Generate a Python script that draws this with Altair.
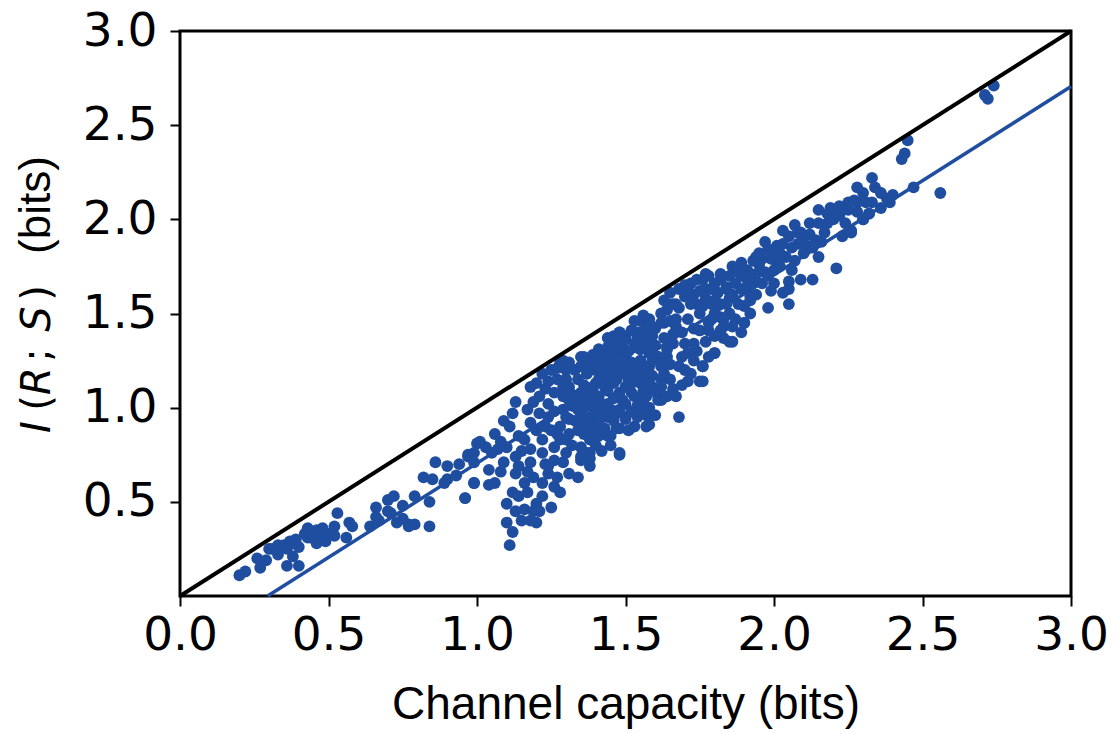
import altair as alt
import pandas as pd

# (channel capacity, mutual information) pairs in bits, one per neuron
low_band = [
    (0.20, 0.11), (0.22, 0.13), (0.27, 0.15), (0.26, 0.20), (0.30, 0.25), (0.29, 0.19),
    (0.33, 0.22), (0.35, 0.27), (0.37, 0.29), (0.39, 0.30), (0.36, 0.16), (0.40, 0.16),
    (0.38, 0.21), (0.43, 0.36), (0.46, 0.35), (0.40, 0.26), (0.43, 0.31), (0.46, 0.28),
    (0.49, 0.29), (0.52, 0.32), (0.53, 0.44), (0.52, 0.37), (0.56, 0.31), (0.57, 0.39),
    (0.58, 0.37), (0.64, 0.37), (0.66, 0.47), (0.67, 0.40), (0.70, 0.51), (0.72, 0.53),
    (0.71, 0.44), (0.73, 0.39), (0.75, 0.48), (0.77, 0.37), (0.79, 0.38), (0.79, 0.53),
    (0.82, 0.63), (0.84, 0.50), (0.84, 0.37), (0.86, 0.71), (0.89, 0.60), (0.90, 0.69),
    (0.93, 0.64), (0.96, 0.52), (0.97, 0.74), (0.99, 0.71), (0.99, 0.60), (1.00, 0.81),
    (0.31, 0.25), (0.33, 0.27), (0.36, 0.25), (0.38, 0.28), (0.42, 0.33), (0.44, 0.31),
    (0.47, 0.33), (0.50, 0.33), (0.48, 0.36), (0.66, 0.42), (0.70, 0.45), (0.75, 0.41),
    (0.77, 0.38), (0.85, 0.62), (0.90, 0.62), (0.94, 0.70),
]

lower_spread = [
    (0.97, 0.75), (0.99, 0.76), (0.96, 0.52), (0.99, 0.60), (1.04, 0.59), (1.06, 0.60),
    (1.04, 0.67), (1.01, 0.82), (1.03, 0.79), (1.07, 0.78), (1.08, 0.66), (1.09, 0.71),
    (1.09, 0.93), (1.11, 0.90), (1.13, 1.03), (1.12, 0.97), (1.14, 0.85), (1.15, 0.77),
    (1.13, 0.74), (1.13, 0.65), (1.12, 0.55), (1.10, 0.49), (1.10, 0.39), (1.12, 0.34),
    (1.11, 0.27), (1.13, 0.45), (1.16, 0.46), (1.18, 0.40), (1.20, 0.49), (1.21, 0.45),
    (1.25, 0.47), (1.20, 0.39), (1.18, 0.71), (1.19, 0.63), (1.22, 0.60), (1.24, 0.65),
    (1.28, 0.55), (1.27, 0.63), (1.29, 0.71),
    (1.14, 0.53), (1.16, 0.60), (1.17, 0.55), (1.15, 0.40), (1.19, 0.45), (1.22, 0.53),
    (1.23, 0.70), (1.26, 0.58), (1.14, 0.69), (1.17, 0.66), (1.05, 0.76), (1.08, 0.82),
    (1.06, 0.86), (1.10, 0.79),
]

core_left = [
    (1.18, 1.11), (1.20, 1.13), (1.22, 1.18), (1.25, 1.20), (1.28, 1.24), (1.29, 1.25),
    (1.27, 1.15), (1.21, 1.06), (1.24, 1.02), (1.26, 1.08), (1.29, 1.06), (1.31, 1.11),
    (1.34, 1.15), (1.32, 1.01), (1.30, 0.95), (1.28, 0.90), (1.25, 0.88), (1.22, 0.83),
    (1.20, 0.88), (1.18, 0.92), (1.17, 0.99), (1.16, 0.83), (1.18, 0.78), (1.22, 0.76),
    (1.26, 0.79), (1.28, 0.83), (1.31, 0.86), (1.34, 0.88), (1.36, 0.92), (1.38, 0.95),
    (1.40, 0.99), (1.35, 0.79), (1.38, 0.83), (1.41, 0.85), (1.37, 0.76), (1.35, 0.72),
    (1.38, 0.69), (1.34, 0.63), (1.31, 0.65),
    (1.35, 1.27), (1.37, 1.24), (1.39, 1.27), (1.41, 1.31), (1.44, 1.32), (1.46, 1.38),
    (1.48, 1.40), (1.50, 1.36), (1.53, 1.32), (1.55, 1.36), (1.57, 1.32), (1.59, 1.38),
    (1.61, 1.27), (1.58, 1.22), (1.56, 1.17), (1.53, 1.20), (1.50, 1.24), (1.48, 1.27),
    (1.46, 1.22), (1.44, 1.18), (1.41, 1.15), (1.39, 1.11), (1.37, 1.08), (1.36, 1.04),
    (1.38, 1.01), (1.41, 1.06), (1.44, 1.09), (1.46, 1.13), (1.48, 1.08), (1.50, 1.11),
    (1.53, 1.06), (1.55, 1.01), (1.57, 1.06), (1.59, 1.11), (1.62, 1.15), (1.61, 1.04),
    (1.44, 0.95), (1.47, 0.97), (1.50, 0.95), (1.53, 0.90), (1.57, 0.90), (1.48, 0.89),
    (1.45, 0.85), (1.48, 0.75), (1.41, 0.94),
    (1.23, 1.10), (1.24, 0.95), (1.26, 0.98), (1.27, 0.86), (1.23, 0.90), (1.29, 0.99),
    (1.30, 1.15), (1.27, 1.21), (1.24, 1.14), (1.21, 0.97), (1.19, 1.03), (1.26, 0.72),
    (1.24, 0.69), (1.30, 0.76), (1.32, 0.80), (1.33, 0.93), (1.32, 1.07), (1.33, 1.20),
    (1.31, 1.24), (1.36, 1.12), (1.38, 1.20), (1.40, 1.24), (1.42, 1.27), (1.39, 1.04),
    (1.42, 1.02), (1.43, 1.15), (1.45, 1.27), (1.46, 1.05), (1.45, 0.99), (1.42, 0.97),
    (1.39, 0.90), (1.37, 0.88), (1.40, 0.87), (1.43, 0.89), (1.35, 0.96), (1.33, 1.03),
    (1.36, 1.00), (1.40, 1.13), (1.42, 1.20), (1.44, 1.37), (1.46, 1.30), (1.45, 0.80),
    (1.42, 0.77), (1.38, 0.73),
]

core_mid = [
    (1.77, 1.71), (1.82, 1.71), (1.86, 1.75), (1.91, 1.73), (1.94, 1.71), (1.84, 1.64),
    (1.89, 1.63), (1.92, 1.59), (1.90, 1.45), (1.86, 1.35), (1.80, 1.29), (1.76, 1.22),
    (1.75, 1.14), (1.71, 1.14), (1.67, 1.06), (1.68, 0.95), (1.62, 1.04), (1.58, 0.91),
    (1.54, 0.95), (1.47, 0.89), (1.48, 0.76), (1.44, 0.85), (1.40, 0.80), (1.38, 0.76),
    (1.35, 0.74),
    (1.74, 1.55), (1.70, 1.59), (1.71, 1.64), (1.66, 1.55), (1.64, 1.52), (1.63, 1.45),
    (1.59, 1.43), (1.56, 1.45), (1.54, 1.40), (1.50, 1.38), (1.48, 1.40), (1.47, 1.32),
    (1.44, 1.31), (1.39, 1.28), (1.36, 1.27), (1.35, 1.22), (1.37, 1.18), (1.40, 1.20),
    (1.44, 1.22), (1.47, 1.25), (1.50, 1.27), (1.55, 1.31), (1.58, 1.34), (1.61, 1.27),
    (1.62, 1.22), (1.57, 1.20), (1.54, 1.17), (1.50, 1.18), (1.47, 1.15), (1.43, 1.11),
    (1.39, 1.09), (1.35, 1.08), (1.31, 1.04), (1.29, 1.11), (1.30, 1.20), (1.34, 0.99),
    (1.37, 0.95), (1.40, 0.99), (1.44, 1.02), (1.49, 1.04), (1.52, 1.08), (1.56, 1.09),
    (1.58, 1.13), (1.65, 1.15), (1.68, 1.22), (1.71, 1.29), (1.73, 1.34), (1.75, 1.41),
    (1.79, 1.47), (1.82, 1.48), (1.85, 1.50), (1.79, 1.55), (1.81, 1.61), (1.74, 1.68),
    (1.68, 1.63), (1.65, 1.61), (1.62, 1.50), (1.58, 1.47), (1.67, 1.43), (1.66, 1.34),
    (1.64, 1.31), (1.57, 1.38), (1.53, 1.34), (1.43, 1.25), (1.50, 0.94), (1.41, 0.92),
    (1.31, 0.94), (1.30, 0.83), (1.36, 0.86), (1.80, 1.38), (1.83, 1.43), (1.61, 1.06),
    (1.54, 1.01),
    (1.47, 1.35), (1.49, 1.32), (1.51, 1.30), (1.52, 1.24), (1.51, 1.15), (1.49, 1.20),
    (1.47, 1.18), (1.52, 1.41), (1.54, 1.37), (1.55, 1.25), (1.56, 1.21), (1.55, 1.13),
    (1.52, 1.13), (1.50, 1.02), (1.52, 0.98), (1.55, 0.97), (1.56, 1.04), (1.58, 1.00),
    (1.59, 1.25), (1.58, 1.29), (1.60, 1.33), (1.60, 1.42), (1.57, 1.42), (1.53, 1.46),
    (1.56, 1.49), (1.59, 1.17), (1.60, 1.09), (1.57, 0.96), (1.60, 0.96), (1.48, 0.99),
    (1.46, 0.93), (1.51, 0.88),
    (1.62, 1.45), (1.63, 1.37), (1.64, 1.27), (1.63, 1.18), (1.65, 1.23), (1.66, 1.39),
    (1.67, 1.47), (1.68, 1.53), (1.69, 1.40), (1.70, 1.34), (1.69, 1.27), (1.70, 1.20),
    (1.72, 1.18), (1.71, 1.47), (1.72, 1.55), (1.73, 1.60), (1.73, 1.42), (1.74, 1.30),
    (1.73, 1.25), (1.65, 1.46), (1.63, 1.57), (1.66, 1.10), (1.64, 1.06), (1.69, 1.12),
    (1.62, 1.11), (1.67, 1.55), (1.70, 1.65), (1.72, 1.66), (1.75, 1.62), (1.75, 1.50),
]

core_upper = [
    (2.19, 2.06), (2.25, 2.09), (2.28, 2.09), (2.31, 2.09), (2.18, 2.03), (2.20, 2.00),
    (2.12, 1.98), (2.07, 1.97), (2.09, 1.93), (2.05, 1.91), (2.03, 1.87), (2.01, 1.86),
    (1.97, 1.88), (1.95, 1.82), (1.96, 1.79), (1.99, 1.79), (2.01, 1.77), (1.93, 1.78),
    (1.89, 1.77), (1.88, 1.72), (1.85, 1.70), (1.82, 1.68), (1.78, 1.70), (1.76, 1.68),
    (1.77, 1.63), (1.81, 1.61), (1.84, 1.63), (1.86, 1.60), (1.91, 1.64), (1.92, 1.57),
    (1.90, 1.54), (1.76, 1.54), (1.80, 1.50), (1.83, 1.47), (1.86, 1.43), (1.90, 1.45),
    (1.82, 1.41), (1.85, 1.35), (1.89, 1.40), (1.80, 1.29), (1.76, 1.22), (1.76, 1.14),
    (1.99, 1.62), (2.03, 1.61), (2.05, 1.67), (2.09, 1.68), (2.13, 1.68), (2.05, 1.63),
    (1.98, 1.53), (2.05, 1.55), (2.21, 1.74), (2.11, 1.86), (2.14, 1.89), (2.17, 1.93),
    (2.18, 1.98), (2.26, 1.93), (2.30, 2.00), (2.32, 2.03), (2.36, 2.06), (2.39, 2.09),
    (2.33, 2.09), (2.08, 1.87), (2.02, 1.82), (1.98, 1.84), (2.03, 1.94), (2.10, 1.82),
    (2.15, 2.05), (2.22, 2.07),
    (1.77, 1.58), (1.78, 1.45), (1.77, 1.35), (1.78, 1.27), (1.80, 1.66), (1.82, 1.55),
    (1.84, 1.55), (1.83, 1.37), (1.85, 1.58), (1.87, 1.66), (1.88, 1.55), (1.87, 1.47),
    (1.89, 1.70), (1.91, 1.68), (1.93, 1.66), (1.94, 1.60), (1.92, 1.50), (1.95, 1.76),
    (1.97, 1.72), (1.94, 1.80), (1.80, 1.57), (1.79, 1.63), (1.78, 1.41),
    (1.98, 1.70), (2.00, 1.84), (2.02, 1.75), (2.04, 1.80), (2.06, 1.85), (2.07, 1.78),
    (2.00, 1.66), (2.08, 1.93), (2.10, 1.90), (2.12, 1.92), (2.13, 1.85), (2.15, 1.98),
    (2.16, 1.88), (2.20, 2.04), (2.22, 2.02), (2.24, 1.98), (2.25, 2.05), (2.28, 2.04),
    (2.23, 1.91), (2.06, 1.73), (2.00, 1.73), (1.96, 1.66), (2.15, 1.80),
]

high_tail = [
    (2.74, 2.71), (2.71, 2.66), (2.72, 2.64), (2.45, 2.42), (2.44, 2.35), (2.43, 2.32),
    (2.33, 2.22), (2.28, 2.17), (2.30, 2.14), (2.34, 2.17), (2.36, 2.14), (2.38, 2.11),
    (2.40, 2.13), (2.47, 2.17), (2.56, 2.14), (2.27, 2.10), (2.30, 2.00), (2.32, 2.03),
    (2.26, 1.94),
]

cells = low_band + lower_spread + core_left + core_mid + core_upper + high_tail
capacity_bits = [c for c, _ in cells]
info_bits = [i for _, i in cells]

# reference lines: identity (I = C) and the linear fit through the cloud
identity_x = [0.0, 3.0]
identity_y = [0.0, 3.0]
fit_x = [0.295, 3.0]
fit_y = [0.0, 2.705]

x_ticks = [0.0, 0.5, 1.0, 1.5, 2.0, 2.5, 3.0]
y_ticks = [0.5, 1.0, 1.5, 2.0, 2.5, 3.0]

BLUE = "#1f4ea0"
TICK_FONT = "DejaVu Sans"
LABEL_FONT = "Liberation Sans"

x_scale = alt.Scale(domain=[0, 3], nice=False, zero=False)
y_scale = alt.Scale(domain=[0, 3], nice=False, zero=False)

x_axis = alt.Axis(
    values=x_ticks, format=".1f", title="Channel capacity (bits)", grid=False,
    domain=False, tickSize=10, tickWidth=2, tickColor="black",
    labelFont=TICK_FONT, labelFontSize=47, labelColor="black", labelPadding=6,
    labelFlush=False, titleFont=LABEL_FONT, titleFontSize=46,
    titleFontWeight="normal", titleColor="black", titlePadding=24,
)
y_axis = alt.Axis(
    values=y_ticks, format=".1f", title=None, grid=False, domain=False,
    tickSize=10, tickWidth=2, tickColor="black",
    labelFont=TICK_FONT, labelFontSize=47, labelColor="black", labelPadding=13,
    labelFlush=False,
)

X = alt.X("capacity:Q", scale=x_scale, axis=x_axis)
Y = alt.Y("info:Q", scale=y_scale, axis=y_axis)

cells_df = pd.DataFrame({"capacity": capacity_bits, "info": info_bits})
scatter = alt.Chart(cells_df).mark_circle(size=140, color=BLUE, opacity=1).encode(x=X, y=Y)

fit_line = alt.Chart(pd.DataFrame({"capacity": fit_x, "info": fit_y})).mark_line(
    color=BLUE, strokeWidth=3.5
).encode(x=X, y=Y)

identity_line = alt.Chart(pd.DataFrame({"capacity": identity_x, "info": identity_y})).mark_line(
    color="black", strokeWidth=4
).encode(x=X, y=Y)


def title_piece(text, y_px, font, size=40, italic=False):
    """One rotated run of the y-axis title (mixing italic math and upright text)."""
    kwargs = dict(angle=270, align="center", baseline="alphabetic", font=font,
                  fontSize=size, color="black")
    if italic:
        kwargs["fontStyle"] = "italic"
    return alt.Chart(pd.DataFrame({"piece": [text]})).mark_text(**kwargs).encode(
        text="piece:N", x=alt.value(-130), y=alt.value(y_px)
    )


y_title = [
    title_piece("I", 396, TICK_FONT, italic=True),
    title_piece("(", 372, TICK_FONT),
    title_piece("R", 350, TICK_FONT, italic=True),
    title_piece(";", 324, TICK_FONT),
    title_piece("S", 288, TICK_FONT, italic=True),
    title_piece(")", 262, TICK_FONT),
    title_piece("(bits)", 174, LABEL_FONT, size=44),
]

chart = alt.layer(scatter, fit_line, identity_line, *y_title).properties(
    width=891,
    height=565,
    autosize=alt.AutoSizeParams(type="none"),
    padding={"left": 180, "top": 31, "right": 46, "bottom": 137},
    background="white",
).configure_view(stroke="black", strokeWidth=3)

chart.save("out.html", embed_options={"renderer": "svg", "actions": False})
